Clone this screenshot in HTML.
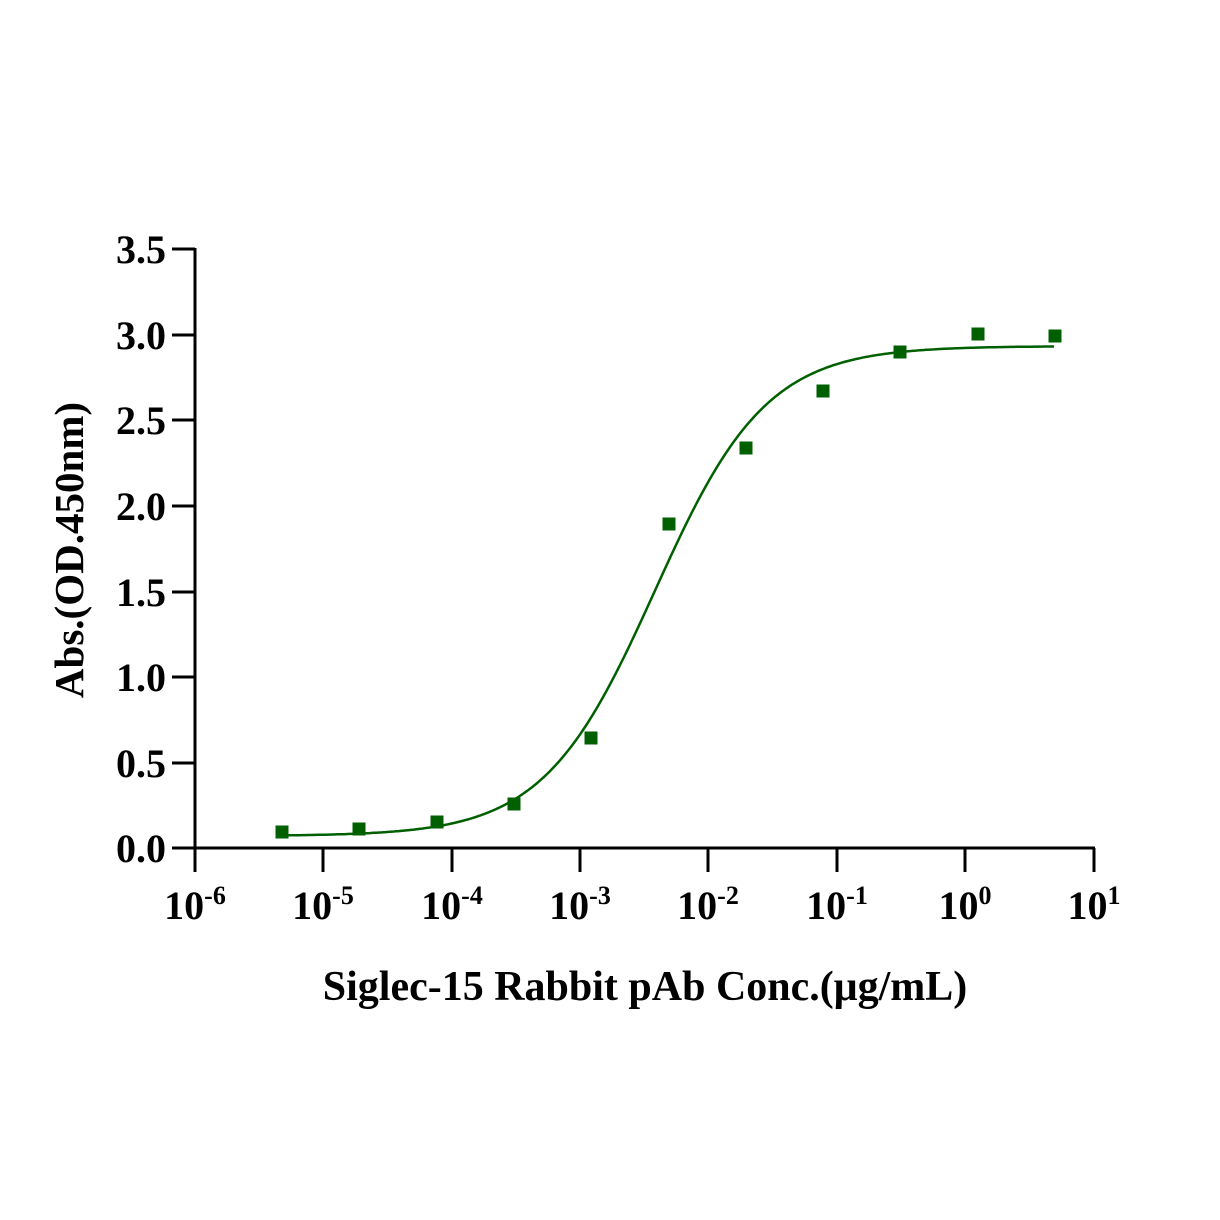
<!DOCTYPE html>
<html><head><style>body{margin:0;background:#fff}svg{display:block}text{font-family:"Liberation Serif",serif;font-weight:bold;fill:#000}</style></head>
<body>
<svg id="s" width="1220" height="1220" viewBox="0 0 1220 1220">
<g stroke="#000" stroke-width="3" fill="none">
<line x1="195" y1="248" x2="195" y2="872"/>
<line x1="172" y1="848" x2="1095" y2="848"/>
<line x1="172" y1="249" x2="195" y2="249"/>
<line x1="172" y1="335" x2="195" y2="335"/>
<line x1="172" y1="420" x2="195" y2="420"/>
<line x1="172" y1="506" x2="195" y2="506"/>
<line x1="172" y1="592" x2="195" y2="592"/>
<line x1="172" y1="677" x2="195" y2="677"/>
<line x1="172" y1="763" x2="195" y2="763"/>
<line x1="323" y1="848" x2="323" y2="872"/>
<line x1="452" y1="848" x2="452" y2="872"/>
<line x1="580" y1="848" x2="580" y2="872"/>
<line x1="708" y1="848" x2="708" y2="872"/>
<line x1="837" y1="848" x2="837" y2="872"/>
<line x1="965" y1="848" x2="965" y2="872"/>
<line x1="1094" y1="848" x2="1094" y2="872"/>
</g>
<g font-size="40" text-anchor="end">
<text x="166" y="263">3.5</text><text x="166" y="349">3.0</text><text x="166" y="434">2.5</text>
<text x="166" y="520">2.0</text><text x="166" y="606">1.5</text><text x="166" y="691">1.0</text>
<text x="166" y="777">0.5</text><text x="166" y="862">0.0</text>
</g>
<g font-size="40" text-anchor="middle">
<text x="195" y="919">10<tspan font-size="26" dy="-15">-6</tspan></text>
<text x="323" y="919">10<tspan font-size="26" dy="-15">-5</tspan></text>
<text x="452" y="919">10<tspan font-size="26" dy="-15">-4</tspan></text>
<text x="580" y="919">10<tspan font-size="26" dy="-15">-3</tspan></text>
<text x="708" y="919">10<tspan font-size="26" dy="-15">-2</tspan></text>
<text x="837" y="919">10<tspan font-size="26" dy="-15">-1</tspan></text>
<text x="965" y="919">10<tspan font-size="26" dy="-15">0</tspan></text>
<text x="1094" y="919">10<tspan font-size="26" dy="-15">1</tspan></text>
</g>
<text x="645" y="1000" font-size="42" text-anchor="middle">Siglec-15 Rabbit pAb Conc.(μg/mL)</text>
<text transform="translate(83,550) rotate(-90)" font-size="41" text-anchor="middle">Abs.(OD.450nm)</text>
<path id="c" fill="none" stroke="#006000" stroke-width="2.5"/>
<g fill="#006000" id="m"></g>
</svg>
<script>
var d="",s=0;for(var x=282;x<=1055;x+=2){var l=-6+(x-195)/128.43;var v=0.07+2.86/(1+Math.pow(10,1.0*(-2.42-l)));var y=848-v*171.3;d+=(s++?"L":"M")+x+","+y.toFixed(1);}
document.getElementById("c").setAttribute("d",d);
var p=[[282,832],[359,829],[437,822],[514,804],[591,738],[669,524],[746,448],[823,391],[900,352],[978,334],[1055,336]],g="";
p.forEach(function(q){g+='<rect x="'+(q[0]-6.5)+'" y="'+(q[1]-6.5)+'" width="13" height="13"/>';});
document.getElementById("m").innerHTML=g;
</script>
</body></html>
